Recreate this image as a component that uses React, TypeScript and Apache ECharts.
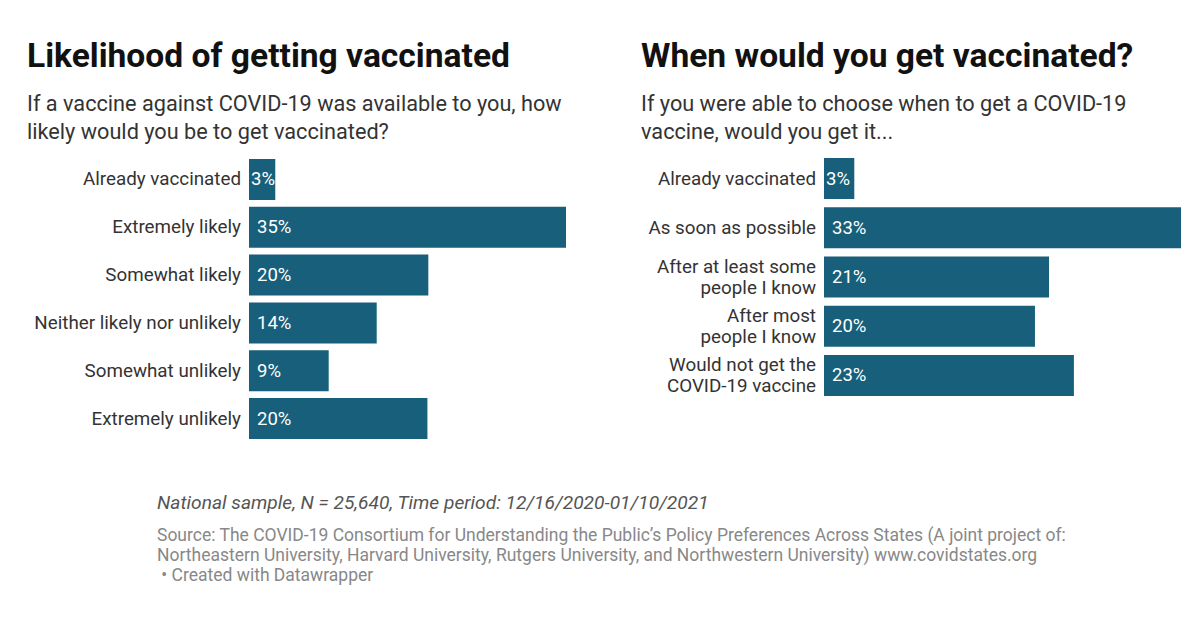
import React, { useEffect, useRef } from "react";
import * as echarts from "echarts";

const leftCategories = [
  "Already vaccinated",
  "Extremely likely",
  "Somewhat likely",
  "Neither likely nor unlikely",
  "Somewhat unlikely",
  "Extremely unlikely",
];
const leftValues = [2.9, 35, 19.8, 14.1, 8.8, 19.7];
const leftLabels = ["3%", "35%", "20%", "14%", "9%", "20%"];

const rightCategories = [
  "Already vaccinated",
  "As soon as possible",
  "After at least some\npeople I know",
  "After most\npeople I know",
  "Would not get the\nCOVID-19 vaccine",
];
const rightValues = [2.8, 33, 20.8, 19.5, 23.1];
const rightLabels = ["3%", "33%", "21%", "20%", "23%"];

const BAR = "#175f7a";
const FONT = "Roboto";

export default function App() {
  const ref = useRef<HTMLDivElement>(null);
  useEffect(() => {
    if (!ref.current) return;
    const chart = echarts.init(ref.current, null, { renderer: "svg" });
    const mkLabel = (labels: string[]) => ({
      show: true,
      position: "insideLeft",
      color: "#ffffff",
      fontFamily: FONT,
      fontSize: 18.5,
      formatter: (p: any) => labels[p.dataIndex],
    });
    const mkData = (vals: number[]) =>
      vals.map((v, i) => ({
        value: v,
        label: { distance: i === 0 ? 2 : 8 },
      }));
    const yAxisCommon = {
      type: "category",
      inverse: true,
      axisLine: { show: false },
      axisTick: { show: false },
      splitLine: { show: false },
      axisLabel: {
        color: "#333333",
        fontFamily: FONT,
        fontSize: 18.8,
        lineHeight: 21,
        margin: 8,
        align: "right",
      },
    };
    const xAxisCommon = {
      type: "value",
      min: 0,
      show: false,
      splitLine: { show: false },
    };
    chart.setOption({
      animation: false,
      backgroundColor: "#ffffff",
      grid: [
        { left: 249, top: 155.5, width: 317, height: 287 },
        { left: 824, top: 154, width: 357, height: 246 },
      ],
      xAxis: [
        { ...xAxisCommon, gridIndex: 0, max: 35 },
        { ...xAxisCommon, gridIndex: 1, max: 33 },
      ],
      yAxis: [
        { ...yAxisCommon, gridIndex: 0, data: leftCategories },
        { ...yAxisCommon, gridIndex: 1, data: rightCategories },
      ],
      series: [
        {
          type: "bar",
          xAxisIndex: 0,
          yAxisIndex: 0,
          data: mkData(leftValues),
          barWidth: 41,
          itemStyle: { color: BAR },
          label: mkLabel(leftLabels),
        },
        {
          type: "bar",
          xAxisIndex: 1,
          yAxisIndex: 1,
          data: mkData(rightValues),
          barWidth: 41,
          itemStyle: { color: BAR },
          label: mkLabel(rightLabels),
        },
      ],
      graphic: [
        {
          type: "text",
          left: 27,
          top: 38,
          style: {
            text: "Likelihood of getting vaccinated",
            fontFamily: FONT,
            fontWeight: "bold",
            fontSize: 33.6,
            fill: "#111111",
          },
        },
        {
          type: "text",
          left: 641,
          top: 38,
          style: {
            text: "When would you get vaccinated?",
            fontFamily: FONT,
            fontWeight: "bold",
            fontSize: 33.6,
            fill: "#111111",
          },
        },
        {
          type: "text",
          left: 27,
          top: 89,
          style: {
            text: "If a vaccine against COVID-19 was available to you, how\nlikely would you be to get vaccinated?",
            fontFamily: FONT,
            fontSize: 21.7,
            lineHeight: 28,
            fill: "#333333",
          },
        },
        {
          type: "text",
          left: 641,
          top: 89,
          style: {
            text: "If you were able to choose when to get a COVID-19\nvaccine, would you get it...",
            fontFamily: FONT,
            fontSize: 21.7,
            lineHeight: 28,
            fill: "#333333",
          },
        },
        {
          type: "text",
          left: 157,
          top: 493,
          style: {
            text: "National sample, N = 25,640, Time period: 12/16/2020-01/10/2021",
            fontFamily: FONT,
            fontStyle: "italic",
            fontSize: 19.2,
            fill: "#555555",
          },
        },
        {
          type: "text",
          left: 157,
          top: 525,
          style: {
            text:
              "Source: The COVID-19 Consortium for Understanding the Public\u2019s Policy Preferences Across States (A joint project of:\nNortheastern University, Harvard University, Rutgers University, and Northwestern University) www.covidstates.org\n \u2022 Created with Datawrapper",
            fontFamily: FONT,
            fontSize: 17.5,
            lineHeight: 20,
            fill: "#888888",
          },
        },
      ],
    });
    return () => chart.dispose();
  }, []);
  return (
    <div
      ref={ref}
      style={{ position: "absolute", left: 0, top: 0, width: 1200, height: 618 }}
    />
  );
}
